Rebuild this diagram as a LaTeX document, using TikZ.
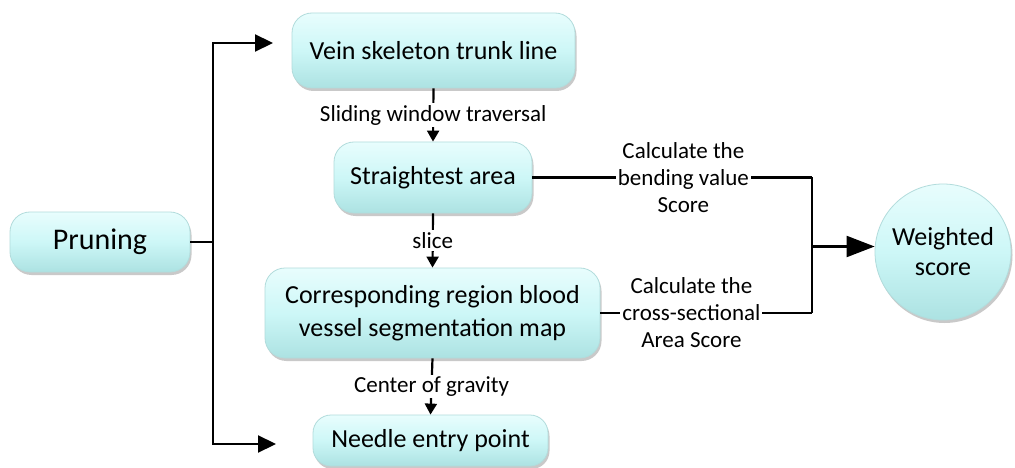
\documentclass[tikz,border=0pt]{standalone}
\usepackage{fontspec}
\setmainfont{Carlito}
\usetikzlibrary{arrows.meta,shadows}

\definecolor{boxtop}{RGB}{232,253,253}
\definecolor{boxmid}{RGB}{205,247,247}
\definecolor{boxbot}{RGB}{172,226,226}
\definecolor{boxrim}{RGB}{178,220,220}

\tikzset{
  gel/.style={draw=boxrim, line width=0.8pt,
    top color=boxtop, bottom color=boxbot, middle color=boxmid,
    drop shadow={shadow xshift=1.5pt, shadow yshift=-3pt, opacity=0.35, fill=black!60},
    align=center, inner sep=0pt},
  pill/.style={gel, rectangle, rounded corners=20pt,
    font=\fontsize{26}{33}\selectfont},
  ballnode/.style={gel, circle, minimum size=136pt,
    font=\fontsize{26}{30}\selectfont},
  lbl/.style={fill=white, inner sep=2pt, align=center,
    font=\fontsize{23}{27}\selectfont},
  wire/.style={line width=2.2pt, draw=black},
  smallhead/.style={wire, -{Triangle[length=11pt,width=12pt]}},
  sidehead/.style={wire, -{Triangle[length=18pt,width=17pt]}},
  bighead/.style={wire, -{Triangle[length=28pt,width=21pt]}},
}

\begin{document}
\begin{tikzpicture}[x=1pt, y=-1pt]
  \useasboundingbox[fill=white] (0,0) rectangle (1015,468);

  % process boxes
  \node[pill, minimum width=180pt, minimum height=60pt,
        font=\fontsize{30}{36}\selectfont] (prune) at (100,242) {Pruning};
  \node[pill, minimum width=283pt, minimum height=75pt] (trunk) at (433.5,50.5)
        {Vein skeleton trunk line};
  \node[pill, minimum width=198pt, minimum height=71pt] (straight) at (433,177.5)
        {Straightest area};
  \node[pill, minimum width=335pt, minimum height=90pt] (segmap) at (432.5,313)
        {Corresponding region blood\\vessel segmentation map};
  \node[pill, minimum width=235pt, minimum height=51pt, rounded corners=18pt]
        (needle) at (430.5,440.5) {Needle entry point};
  \node[ballnode] (score) at (943,252) {Weighted\\score};

  % branch from the pruning step
  \coordinate (fork) at (213,242);
  \coordinate (topend) at (273,43);
  \coordinate (botend) at (276,444);
  \draw[wire] (prune.east) -- (fork);
  \draw[sidehead] (fork) |- (topend);
  \draw[sidehead] (fork) |- (botend);

  % main vertical chain
  \draw[smallhead] (trunk.south) -- node[lbl] {Sliding window traversal} (straight.north);
  \draw[smallhead] (straight.south) -- node[lbl] {slice} (segmap.north);
  \draw[smallhead] (segmap.south) -- node[lbl] {Center of gravity} (needle.north);

  % the two scores merging into the weighted score
  \coordinate (merge) at (812,246.5);
  \draw[wire] (straight.east) -- node[lbl, pos=0.54]
        {Calculate the\\bending value\\Score} (straight.east -| merge);
  \draw[wire] (segmap.east) -- node[lbl, pos=0.43]
        {Calculate the\\cross-sectional\\Area Score} (segmap.east -| merge);
  \draw[wire] (straight.east -| merge) -- (segmap.east -| merge);
  \draw[bighead] (merge) -- (merge -| score.west);
\end{tikzpicture}
\end{document}
